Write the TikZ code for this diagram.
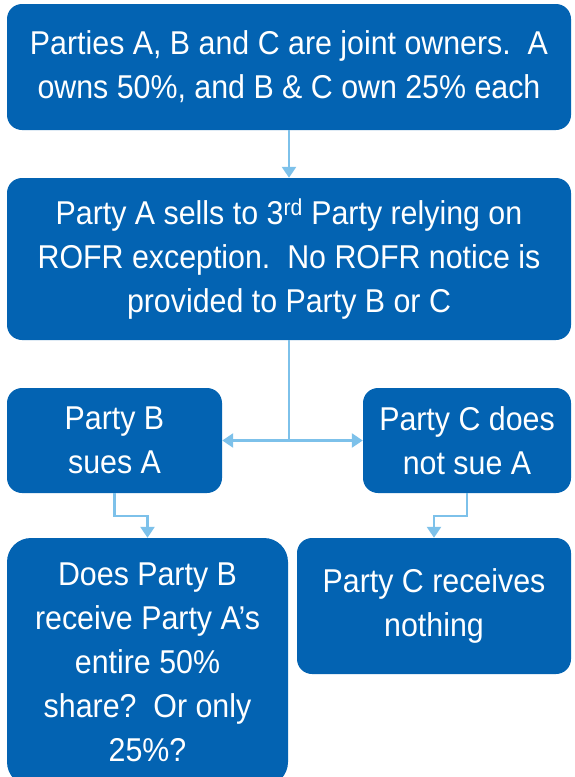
\documentclass[tikz,border=0pt]{standalone}
\usepackage{fontspec}
\setmainfont[FakeStretch=0.92]{Liberation Sans}
\usetikzlibrary{arrows.meta}
\definecolor{boxblue}{RGB}{3,99,178}
\definecolor{linkblue}{RGB}{125,193,234}
\begin{document}
\begin{tikzpicture}[
    x=1pt, y=-1pt,
    stepbox/.style={fill=boxblue, rounded corners=15pt, text=white, align=center,
      inner sep=0pt, font=\fontsize{33}{44}\selectfont},
    link/.style={draw=linkblue, line width=2.4pt},
    tip/.style={-{Triangle[width=14pt,length=11pt]}}
  ]
  \useasboundingbox (0,0) rectangle (574,777);
  \node[stepbox, minimum width=564pt, minimum height=126pt] (owners) at (289,67)
    {Parties A, B and C are joint owners.\ \ A\\owns 50\%, and B \& C own 25\% each};
  \node[stepbox, minimum width=564pt, minimum height=162pt] (sale) at (289,259)
    {Party A sells to 3\textsuperscript{rd} Party relying on\\ROFR exception.\ \ No ROFR notice is\\provided to Party B or C};
  \node[stepbox, minimum width=215pt, minimum height=105pt] (suesB) at (114.5,440.5)
    {Party B\\sues A};
  \node[stepbox, minimum width=208pt, minimum height=105pt] (nosueC) at (467,440.5)
    {Party C does\\not sue A};
  \node[stepbox, rounded corners=24pt, minimum width=281pt, minimum height=248pt] (shareB) at (147.5,662)
    {Does Party B\\receive Party A’s\\entire 50\%\\share?\ \ Or only\\25\%?};
  \node[stepbox, minimum width=274pt, minimum height=136pt] (nothingC) at (434,606)
    {Party C receives\\nothing};
  \coordinate (split) at (sale.south |- suesB.east);
  \draw[link, tip] (owners.south) -- (sale.north);
  \draw[link] (sale.south) -- (split);
  \draw[link, {Triangle[width=14pt,length=11pt]}-{Triangle[width=14pt,length=11pt]}] (suesB.east) -- (nosueC.west);
  \draw[link, tip] (suesB.south) -- ++(0,23) -| (shareB.north);
  \draw[link, tip] (nosueC.south) -- ++(0,23) -| (nothingC.north);
\end{tikzpicture}
\end{document}
